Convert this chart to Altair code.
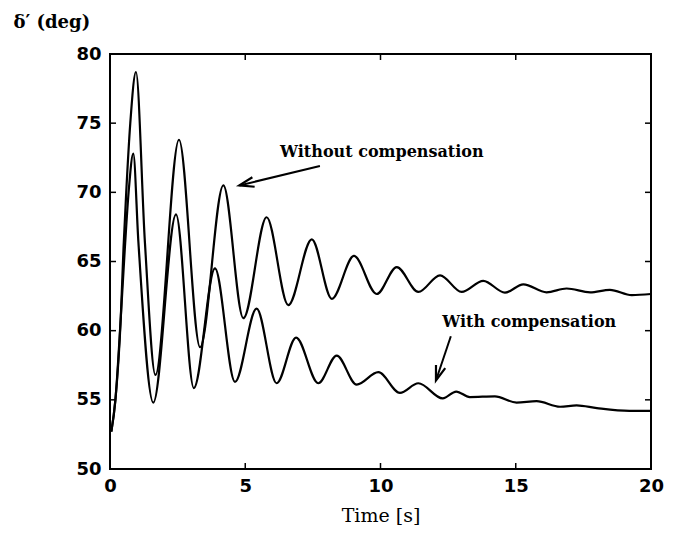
import math
import altair as alt
import pandas as pd

# ---- data ----
t_without = [0.05, 0.2, 0.4, 0.5, 0.6, 0.75, 0.96, 1.29, 1.68, 2.55, 3.33, 4.19, 4.93,
             5.79, 6.59, 7.46, 8.2, 9.02, 9.86, 10.6, 11.4, 12.2, 13.0, 13.8, 14.6,
             15.28, 16.14, 16.88, 17.75, 18.48, 19.29, 20.0]
y_without = [52.7, 55.0, 61.0, 66.0, 70.0, 75.0, 78.7, 66.4, 56.8, 73.8, 58.8, 70.5, 60.9,
             68.2, 61.85, 66.6, 62.3, 65.4, 62.65, 64.6, 62.8, 64.0, 62.8, 63.6, 62.75,
             63.35, 62.77, 63.05, 62.77, 62.95, 62.57, 62.65]

t_with = [0.05, 0.2, 0.4, 0.55, 0.7, 0.86, 1.05, 1.6, 2.44, 3.1, 3.88, 4.62, 5.42, 6.16,
          6.88, 7.7, 8.38, 9.12, 9.92, 10.72, 11.4, 12.3, 12.8, 13.3, 14.23, 15.03,
          15.77, 16.64, 17.25, 18.0, 19.2, 20.0]
y_with = [52.7, 55.0, 61.0, 66.0, 70.3, 72.8, 66.4, 54.8, 68.4, 55.85, 64.5, 56.3, 61.6,
          56.2, 59.5, 56.2, 58.2, 56.1, 57.0, 55.5, 56.2, 55.1, 55.6, 55.2, 55.25, 54.8,
          54.9, 54.5, 54.6, 54.4, 54.2, 54.2]

x_ticks = [0, 5, 10, 15, 20]
y_ticks = [50, 55, 60, 65, 70, 75, 80]

labels = ["Without compensation", "With compensation"]
label_t = [10.05, 15.5]
label_y = [72.9, 60.6]
arrow_t0 = [7.76, 12.6]
arrow_y0 = [71.9, 59.6]
arrow_t1 = [4.78, 12.05]
arrow_y1 = [70.5, 56.4]

# ---- layout ----
W, H = 541, 415
xs = alt.Scale(domain=[0, 20], nice=False, zero=False)
ys = alt.Scale(domain=[50, 80], nice=False, zero=False)

x_axis = alt.Axis(
    values=x_ticks, ticks=False, tickSize=0, domain=False, grid=False, labelFlush=False,
    labelFont="DejaVu Sans", labelFontSize=18, labelFontWeight="bold", labelColor="black",
    labelPadding=8, title="Time [s]", titleFont="DejaVu Serif", titleFontSize=19,
    titleFontWeight="normal", titleColor="black", titlePadding=11)
y_axis = alt.Axis(
    values=y_ticks, ticks=False, tickSize=0, domain=False, grid=False, labelFlush=False,
    labelFont="DejaVu Sans", labelFontSize=18, labelFontWeight="bold", labelColor="black",
    labelPadding=9, title="δ′ (deg)", titleAngle=0, titleX=-97, titleY=-32,
    titleAlign="left", titleBaseline="middle", titleFont="DejaVu Serif",
    titleFontSize=18, titleFontWeight="bold", titleColor="black")

df = pd.concat([
    pd.DataFrame({"t": t_without, "y": y_without, "series": "without"}),
    pd.DataFrame({"t": t_with, "y": y_with, "series": "with"}),
])

lines = alt.Chart(df).mark_line(color="black", strokeWidth=2.2, interpolate="monotone").encode(
    x=alt.X("t:Q", scale=xs, axis=x_axis),
    y=alt.Y("y:Q", scale=ys, axis=y_axis),
    detail="series:N",
)

ytick_df = pd.DataFrame({"v": y_ticks})
xtick_df = pd.DataFrame({"v": x_ticks})
tl = 6
left_t = alt.Chart(ytick_df).mark_rule(color="black", strokeWidth=1.5).encode(
    y=alt.Y("v:Q", scale=ys, axis=y_axis), x=alt.value(0), x2=alt.value(tl))
right_t = alt.Chart(ytick_df).mark_rule(color="black", strokeWidth=1.5).encode(
    y=alt.Y("v:Q", scale=ys, axis=y_axis), x=alt.value(W - tl), x2=alt.value(W))
bottom_t = alt.Chart(xtick_df).mark_rule(color="black", strokeWidth=1.5).encode(
    x=alt.X("v:Q", scale=xs, axis=x_axis), y=alt.value(H - tl), y2=alt.value(H))
top_t = alt.Chart(xtick_df).mark_rule(color="black", strokeWidth=1.5).encode(
    x=alt.X("v:Q", scale=xs, axis=x_axis), y=alt.value(0), y2=alt.value(tl))

ann = pd.DataFrame({"t": label_t, "y": label_y, "label": labels})
texts = alt.Chart(ann).mark_text(font="DejaVu Serif", fontSize=16, fontWeight="bold",
                                 color="black").encode(
    x=alt.X("t:Q", scale=xs, axis=x_axis), y=alt.Y("y:Q", scale=ys, axis=y_axis),
    text="label:N")

px = W / 20.0
py = H / 30.0
angles = []
for a, b, c, d in zip(arrow_t0, arrow_y0, arrow_t1, arrow_y1):
    dx = (c - a) * px
    dy = -(d - b) * py
    angles.append(math.degrees(math.atan2(dx, -dy)) % 360)

arr = pd.DataFrame({"t0": arrow_t0, "y0": arrow_y0, "t1": arrow_t1, "y1": arrow_y1,
                    "ang": angles})
shafts = alt.Chart(arr).mark_rule(color="black", strokeWidth=2).encode(
    x=alt.X("t0:Q", scale=xs, axis=x_axis), y=alt.Y("y0:Q", scale=ys, axis=y_axis),
    x2="t1:Q", y2="y1:Q")
heads = alt.Chart(arr).mark_point(shape="M-0.5,1.5L0,0L0.5,1.5", filled=False, color="black",
                                  strokeWidth=2.2, size=380, opacity=1).encode(
    x=alt.X("t1:Q", scale=xs, axis=x_axis), y=alt.Y("y1:Q", scale=ys, axis=y_axis),
    angle=alt.Angle("ang:Q", scale=None))

chart = alt.layer(lines, left_t, right_t, bottom_t, top_t, texts, shafts, heads).properties(
    width=W, height=H,
    autosize=alt.AutoSizeParams(type="none"),
    padding={"left": 102, "top": 46, "right": 15, "bottom": 62},
    background="white",
).configure_view(stroke="black", strokeWidth=2)

chart.save("out.html", embed_options={"renderer": "svg", "actions": False})
